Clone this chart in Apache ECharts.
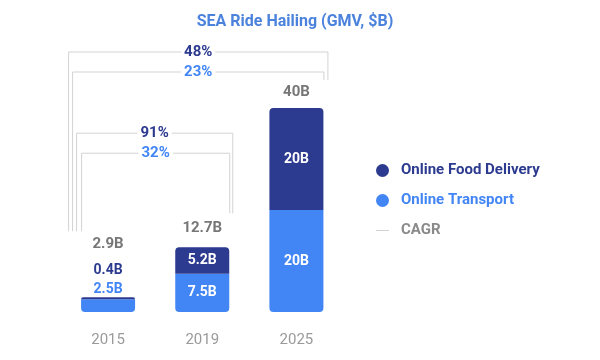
<!DOCTYPE html>
<html><head><meta charset="utf-8">
<script src="https://cdn.jsdelivr.net/npm/echarts@6/dist/echarts.min.js"></script>
<style>html,body{margin:0;padding:0;background:#fff}#c{width:600px;height:360px}</style>
</head><body><div id="c"></div>
<script>
const categories = ['2015', '2019', '2025'];
const transport = [2.5, 7.5, 20];
const food = [0.4, 5.2, 20];
const totals = [2.9, 12.7, 40];
const transportLabels = ['2.5B', '7.5B', '20B'];
const foodLabels = ['0.4B', '5.2B', '20B'];
const totalLabels = ['2.9B', '12.7B', '40B'];
// CAGR brackets: from category index, to category index, text, series
const cagrOuter = [{from: 0, to: 2, food: '48%', transport: '23%'}];
const cagrInner = [{from: 0, to: 1, food: '91%', transport: '32%'}];

const NAVY = '#2c3a8f', BLUE = '#4285f4', GRAY = '#777777', LINE = '#d3d3d3';
const FONT = 'Roboto';

const chart = echarts.init(document.getElementById('c'));
chart.setOption({
  animation: false,
  title: {
    text: 'SEA Ride Hailing (GMV, $B)', left: 290, textAlign: 'center', top: 9,
    textStyle: {color: '#4a82dc', fontSize: 16, fontWeight: 'bold', fontFamily: FONT}
  },
  grid: {left: 61, right: 256.5, top: 108, bottom: 48},
  xAxis: {
    type: 'category', data: categories,
    axisLine: {show: false}, axisTick: {show: false},
    axisLabel: {color: '#9a9a9a', fontSize: 15, fontFamily: FONT, margin: 21}
  },
  yAxis: {type: 'value', min: 0, max: 40, show: false, splitLine: {show: false}},
  legend: {
    orient: 'vertical', left: 371, top: 158, itemGap: 15,
    itemWidth: 13, itemHeight: 15, selectedMode: false,
    textStyle: {fontSize: 15, fontWeight: 'bold', fontFamily: FONT, padding: [0, 0, 0, 7]},
    data: [
      {name: 'Online Food Delivery', icon: 'circle', textStyle: {color: NAVY}},
      {name: 'Online Transport', icon: 'circle', textStyle: {color: BLUE}},
      {name: 'CAGR', icon: 'path://M0,0 L0,0.01 M0,7 L13,7 L13,8 L0,8 Z M13,15 L13,14.99', textStyle: {color: '#8a8a8a'}}
    ]
  },
  series: [
    {
      name: 'Online Transport', type: 'bar', stack: 'g', barWidth: 54, barGap: '-100%',
      itemStyle: {color: BLUE, borderRadius: [0, 0, 4, 4]},
      data: transport.map((v, i) => ({
        value: v,
        label: i === 0
          ? {show: true, position: 'top', distance: 3, color: BLUE, formatter: transportLabels[i]}
          : {show: true, position: 'inside', color: '#fff', formatter: transportLabels[i]}
      })),
      label: {fontSize: 14, fontWeight: 'bold', fontFamily: FONT}
    },
    {
      name: 'Online Food Delivery', type: 'bar', stack: 'g', barWidth: 54, barGap: '-100%',
      itemStyle: {color: NAVY, borderRadius: [4, 4, 0, 0]},
      data: food.map((v, i) => ({
        value: v,
        label: i === 0
          ? {show: true, position: 'top', distance: 20, color: NAVY, formatter: foodLabels[i]}
          : {show: true, position: 'inside', color: '#fff', formatter: foodLabels[i]}
      })),
      label: {fontSize: 14, fontWeight: 'bold', fontFamily: FONT}
    },
    {
      name: 'Total', type: 'bar', barWidth: 54, barGap: '-100%', silent: true, z: 1,
      itemStyle: {color: 'rgba(0,0,0,0)'},
      data: totals.map((v, i) => ({
        value: v,
        label: {show: true, position: 'top', distance: [45, 11, 8][i], formatter: totalLabels[i]}
      })),
      label: {color: GRAY, fontSize: 15, fontWeight: 'bold', fontFamily: FONT}
    },
    {name: 'CAGR', type: 'line', data: [], itemStyle: {color: LINE}, lineStyle: {color: LINE}}
  ]
});

function px(i) { return chart.convertToPixel({xAxisIndex: 0}, categories[i]); }
function py(v) { return chart.convertToPixel({yAxisIndex: 0}, v); }

const g = [];
function bracket(xl, xr, yTop, yl, yr, text, color) {
  g.push({
    type: 'polyline', silent: true,
    shape: {points: [[xl, yl], [xl, yTop], [xr, yTop], [xr, yr]]},
    style: {stroke: LINE, lineWidth: 1, fill: null}
  });
  g.push({
    type: 'text', silent: true, x: (xl + xr) / 2, y: yTop,
    style: {
      text: text, fill: color, font: 'bold 15px ' + FONT,
      align: 'center', verticalAlign: 'middle',
      backgroundColor: '#fff', padding: [0, 3]
    }
  });
}
const leftEnd = py(totals[0]) - 66;
cagrOuter.forEach(b => {
  const top = py(totals[b.to]);
  bracket(px(b.from) - 39.5, px(b.to) + 31.5, top - 56, leftEnd, top - 28, b.food, NAVY);
  bracket(px(b.from) - 35.5, px(b.to) + 27.5, top - 36, leftEnd, top - 28, b.transport, BLUE);
});
cagrInner.forEach(b => {
  const top = py(totals[b.to]);
  bracket(px(b.from) - 31.5, px(b.to) + 30.5, top - 114, leftEnd, top - 34, b.food, NAVY);
  bracket(px(b.from) - 26.5, px(b.to) + 27.5, top - 94, leftEnd, top - 34, b.transport, BLUE);
});
chart.setOption({graphic: g});
</script></body></html>
